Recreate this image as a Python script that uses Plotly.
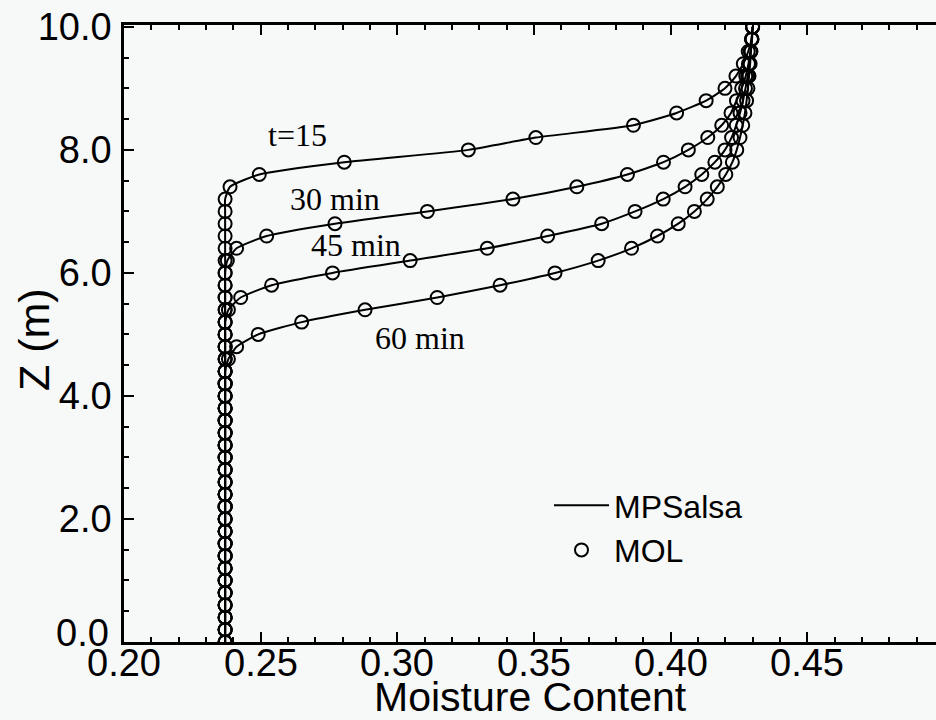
import plotly.graph_objects as go

# Depth grid (m)
z = [0.0, 0.2, 0.4, 0.6, 0.8, 1.0, 1.2, 1.4, 1.6, 1.8,
     2.0, 2.2, 2.4, 2.6, 2.8, 3.0, 3.2, 3.4, 3.6, 3.8,
     4.0, 4.2, 4.4, 4.6, 4.8, 5.0, 5.2, 5.4, 5.6, 5.8,
     6.0, 6.2, 6.4, 6.6, 6.8, 7.0, 7.2, 7.4, 7.6, 7.8,
     8.0, 8.2, 8.4, 8.6, 8.8, 9.0, 9.2, 9.4, 9.6, 9.8, 10.0]

# Moisture content profiles
theta_15 = [0.237] * 37 + [0.2388, 0.2495, 0.2806, 0.326, 0.3507, 0.3864, 0.4022,
                           0.4130, 0.4199, 0.4239, 0.4266, 0.4284, 0.4296, 0.430]
theta_30 = [0.237] * 31 + [0.2378, 0.2412, 0.2522, 0.2772, 0.311, 0.3423, 0.3657,
                           0.3842, 0.3974, 0.4065, 0.4136, 0.4187, 0.4221, 0.4241,
                           0.426, 0.4275, 0.4285, 0.4292, 0.4298, 0.430]
theta_45 = [0.237] * 27 + [0.2382, 0.2427, 0.254, 0.2763, 0.3047, 0.3329, 0.355,
                           0.3748, 0.387, 0.3973, 0.4053, 0.4114, 0.4162, 0.4199,
                           0.4223, 0.424, 0.4254, 0.4265, 0.4274, 0.4282, 0.4288,
                           0.4293, 0.4297, 0.430]
theta_60 = [0.237] * 23 + [0.2382, 0.2412, 0.2491, 0.265, 0.2882, 0.3146, 0.3376,
                           0.3577, 0.3735, 0.3857, 0.3952, 0.4028, 0.4087, 0.4134,
                           0.4171, 0.4202, 0.4226, 0.4242, 0.4254, 0.4264, 0.4272,
                           0.4278, 0.4283, 0.4287, 0.4291, 0.4294, 0.4297, 0.430]

profiles = [theta_15, theta_30, theta_45, theta_60]

curve_labels = ["t=15", "30 min", "45 min", "60 min"]
label_x = [0.2634, 0.2772, 0.2849, 0.3083]
label_z = [8.24, 7.20, 6.46, 4.94]

x_ticks = [0.20, 0.25, 0.30, 0.35, 0.40, 0.45]
y_ticks = [0.0, 2.0, 4.0, 6.0, 8.0, 10.0]

fig = go.Figure()

for i, th in enumerate(profiles):
    fig.add_trace(go.Scatter(
        x=th, y=z, mode="lines", name="MPSalsa", legendgroup="mp",
        showlegend=(i == 0),
        line=dict(color="black", width=2, shape="spline", smoothing=0.5),
    ))
for i, th in enumerate(profiles):
    fig.add_trace(go.Scatter(
        x=th, y=z, mode="markers", name="MOL", legendgroup="mol",
        showlegend=(i == 0),
        marker=dict(symbol="circle-open", size=13, color="black",
                    line=dict(width=2, color="black")),
    ))

for txt, lx, lz in zip(curve_labels, label_x, label_z):
    fig.add_annotation(x=lx, y=lz, text=txt, showarrow=False,
                       font=dict(family="Liberation Serif", size=32, color="black"))

axis_font = dict(family="Liberation Sans", size=38, color="black")

# x tick labels (placed as text so they can sit tight under the axis)
for v in x_ticks:
    fig.add_annotation(x=v, xref="x", y=0, yref="paper", yanchor="top", yshift=2,
                       text="%.2f" % v, showarrow=False, font=axis_font)

# 0.0 label sits slightly above its tick
fig.add_annotation(xref="paper", x=0, xanchor="right", xshift=-13,
                   yref="y", y=0, yanchor="bottom", yshift=-14,
                   text="0.0", showarrow=False, font=axis_font)

# axis titles
fig.add_annotation(xref="paper", x=0.5, yref="paper", y=(642 - 697) / 617,
                   xanchor="center", yanchor="middle", text="Moisture Content",
                   showarrow=False, font=dict(family="Liberation Sans", size=41, color="black"))
fig.add_annotation(xref="paper", x=(34 - 124) / 812, yref="paper", y=(642 - 340) / 617,
                   xanchor="center", yanchor="middle", textangle=-90, text="Z (m)",
                   showarrow=False, font=dict(family="Liberation Sans", size=43, color="black"))

fig.update_layout(
    width=936, height=720,
    margin=dict(l=124, r=0, t=25, b=78),
    paper_bgcolor="#f7f8f8", plot_bgcolor="#f7f8f8",
    font=dict(family="Liberation Sans", color="black"),
    showlegend=True,
    legend=dict(x=(549 - 124) / 812, xanchor="left", y=(642 - 478) / 617, yanchor="top",
                bgcolor="rgba(0,0,0,0)", font=dict(family="Liberation Sans", size=32, color="black"),
                itemwidth=55, tracegroupgap=0),
    xaxis=dict(range=[0.20, 0.20 + 812 / 2733], tickvals=x_ticks + [0.50],
               showticklabels=False,
               ticks="inside", ticklen=10, tickwidth=2, tickcolor="black",
               showline=True, linecolor="black", linewidth=2.5, mirror="ticks",
               showgrid=False, zeroline=False,
               minor=dict(dtick=0.01, ticks="inside", ticklen=5, tickwidth=1.5, tickcolor="black")),
    yaxis=dict(range=[0, 10.03], tickvals=y_ticks,
               ticktext=["" if v == 0 else "%.1f" % v for v in y_ticks],
               ticks="inside", ticklen=10, tickwidth=2, tickcolor="black",
               showline=True, linecolor="black", linewidth=2.5, mirror=False,
               showgrid=False, zeroline=False, tickfont=axis_font,
               ticklabelstandoff=2,
               minor=dict(dtick=0.5, ticks="inside", ticklen=5, tickwidth=1.5, tickcolor="black")),
)

fig.write_html("out.html")
